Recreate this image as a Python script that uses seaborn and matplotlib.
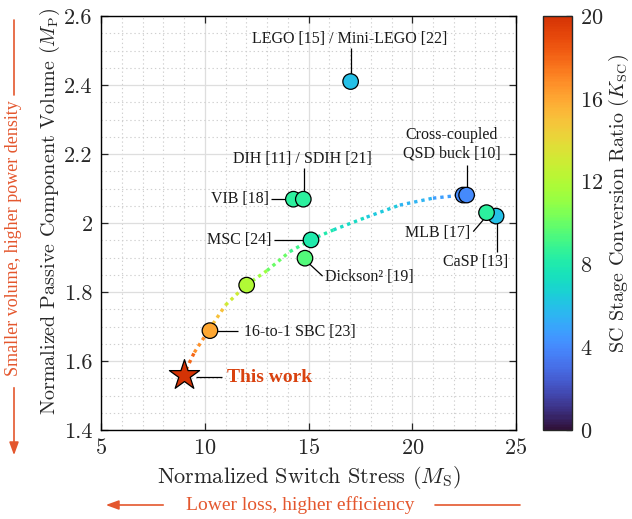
import numpy as np
import pandas as pd
import matplotlib
matplotlib.use("Agg")
import matplotlib.pyplot as plt
import seaborn as sns
from matplotlib.collections import LineCollection
from matplotlib.colors import ListedColormap, Normalize
from matplotlib.patches import FancyArrowPatch
import matplotlib.cm as cm

# ---- data -------------------------------------------------------------
labels = ["LEGO [15] / Mini-LEGO [22]", "VIB [18]", "DIH [11] / SDIH [21]",
          "MSC [24]", "Dickson² [19]", "", "16-to-1 SBC [23]",
          "Cross-coupled QSD buck [10] (a)", "Cross-coupled QSD buck [10] (b)",
          "CaSP [13]", "MLB [17]"]
switch_stress = [17.03, 14.27, 14.75, 15.12, 14.83, 12.02, 10.25, 22.45, 22.62, 24.04, 23.58]
passive_volume = [2.410, 2.069, 2.069, 1.951, 1.898, 1.820, 1.688, 2.081, 2.081, 2.020, 2.030]
k_sc = [6.0, 8.5, 8.5, 8.0, 9.5, 12.0, 16.0, 4.0, 4.0, 6.0, 8.5]

this_work_ms = 9.02
this_work_mp = 1.559
this_work_k = 20.0

# trend through the designs
trend_ms = [9.1, 9.5, 10.2, 11.0, 12.0, 13.0, 14.1, 15.1, 16.2, 17.8, 19.4, 21.0, 22.4]
trend_mp = [1.575, 1.625, 1.690, 1.762, 1.820, 1.862, 1.917, 1.951, 1.980, 2.017, 2.052, 2.072, 2.081]
trend_k = [18.5, 17.5, 16.0, 14.0, 12.0, 10.5, 9.5, 8.5, 7.5, 6.8, 6.0, 5.0, 4.5]

x_ticks = [5, 10, 15, 20, 25]
y_ticks = [1.4, 1.6, 1.8, 2.0, 2.2, 2.4, 2.6]
y_tick_labels = ["1.4", "1.6", "1.8", "2", "2.2", "2.4", "2.6"]
cbar_ticks = [0, 4, 8, 12, 16, 20]

df = pd.DataFrame({"label": labels, "ms": switch_stress, "mp": passive_volume, "k": k_sc})

# ---- style ------------------------------------------------------------
sns.set_style("ticks")
plt.rcParams.update({
    "font.family": "serif",
    "font.serif": ["cmr10"],
    "mathtext.fontset": "cm",
    "axes.formatter.use_mathtext": True,
    "axes.unicode_minus": False,
})
ANN = "Liberation Serif"
ORANGE = "#e4572e"
RED = "#d9420f"

turbo = plt.get_cmap("turbo")
cmap = ListedColormap(turbo(np.linspace(0.0, 0.87, 256)))
norm = Normalize(0, 20)

fig = plt.figure(figsize=(6.32, 5.19), dpi=100)
W, H = 632, 519
ax = fig.add_axes([101 / W, 1 - 430 / H, 415 / W, 414 / H])

# grid
ax.set_xlim(5, 25)
ax.set_ylim(1.4, 2.6)
ax.set_xticks(x_ticks)
ax.set_yticks(y_ticks)
ax.set_yticklabels(y_tick_labels)
ax.set_xticks(np.arange(5, 26, 1), minor=True)
ax.set_yticks(np.arange(1.4, 2.61, 0.05), minor=True)
ax.grid(which="major", color="#dedede", lw=0.9, ls="-", zorder=0)
ax.grid(which="minor", color="#cfcfcf", lw=0.8, ls=(0, (1.2, 2.5)), zorder=0)
ax.set_axisbelow(True)
ax.tick_params(which="major", direction="in", length=5, width=0.9,
               top=True, right=True, labelsize=16, pad=6)
ax.tick_params(which="minor", length=0, top=True, right=True)
for s in ax.spines.values():
    s.set_linewidth(1.0)
    s.set_color("black")

# dotted trend curve coloured by conversion ratio
pts = np.column_stack([trend_ms, trend_mp])
segs = np.stack([pts[:-1], pts[1:]], axis=1)
seg_k = [(a + b) / 2 for a, b in zip(trend_k[:-1], trend_k[1:])]
lc = LineCollection(segs, cmap=cmap, norm=norm, linewidths=2.4,
                    linestyles=(0, (1.0, 1.2)), zorder=2, capstyle="butt")
lc.set_array(np.array(seg_k))
ax.add_collection(lc)

# designs
sns.scatterplot(data=df, x="ms", y="mp", hue="k", palette=cmap, hue_norm=norm,
                s=125, edgecolor="black", linewidth=0.9, legend=False, ax=ax, zorder=4)
ax.scatter([this_work_ms], [this_work_mp], marker="*", s=520,
           c=[this_work_k], cmap=cmap, norm=norm, edgecolors="black",
           linewidths=0.9, zorder=5)

ax.set_xlabel(r"Normalized Switch Stress ($M_{\mathrm{S}}$)", fontsize=16, labelpad=4)
ax.set_ylabel(r"Normalized Passive Component Volume ($M_{\mathrm{P}}$)", fontsize=14.5)
ax.yaxis.set_label_coords(-0.094, 0.527)

# callouts
def leader(x0, y0, x1, y1):
    ax.plot([x0, x1], [y0, y1], color="black", lw=0.9, zorder=3, solid_capstyle="butt")

tk = dict(family=ANN, fontsize=11.5, color="#1a1a1a", zorder=6)
ax.text(17.0, 2.533, "LEGO [15] / Mini-LEGO [22]", ha="center", va="center", **tk)
leader(17.03, 2.508, 17.03, 2.43)
ax.text(14.71, 2.186, "DIH [11] / SDIH [21]", ha="center", va="center", **tk)
leader(14.78, 2.160, 14.78, 2.085)
ax.text(13.08, 2.069, "VIB [18]", ha="right", va="center", **tk)
leader(13.18, 2.069, 14.0, 2.069)
ax.text(13.23, 1.951, "MSC [24]", ha="right", va="center", **tk)
leader(13.34, 1.951, 14.9, 1.951)
ax.text(15.8, 1.844, "Dickson² [19]", ha="left", va="center", **tk)
leader(14.98, 1.885, 15.68, 1.846)
ax.text(21.9, 2.228, "Cross-coupled\nQSD buck [10]", ha="center", va="center",
        linespacing=1.25, **tk)
leader(22.62, 2.168, 22.62, 2.10)
ax.text(22.78, 1.971, "MLB [17]", ha="right", va="center", **tk)
leader(22.94, 1.975, 23.45, 2.011)
ax.text(23.07, 1.888, "CaSP [13]", ha="center", va="center", **tk)
leader(24.08, 2.0, 24.08, 1.917)
ax.text(11.89, 1.685, "16-to-1 SBC [23]", ha="left", va="center", **tk)
leader(10.57, 1.688, 11.62, 1.688)
ax.text(11.05, 1.553, "This work", ha="left", va="center", family=ANN,
        fontsize=14, fontweight="bold", color=RED, zorder=6)
leader(9.6, 1.555, 10.81, 1.555)

# colour bar
cax = fig.add_axes([543 / W, 1 - 430 / H, 29 / W, 414 / H])
sm = cm.ScalarMappable(norm=norm, cmap=cmap)
cb = fig.colorbar(sm, cax=cax, ticks=cbar_ticks)
cb.outline.set_linewidth(1.0)
cb.ax.tick_params(direction="in", length=4, width=0.9, labelsize=16, pad=6)
cb.set_label(r"SC Stage Conversion Ratio ($K_{\mathrm{SC}}$)", fontsize=14.5)
cb.ax.yaxis.set_label_coords(2.2, 0.548)

# direction hints around the axes
def fx(px):
    return px / W

def fy(py):
    return 1 - py / H

fig.add_artist(plt.Line2D([fx(14), fx(14)], [fy(20), fy(95)], color=ORANGE, lw=1.2))
fig.text(fx(14), fy(238), "Smaller volume, higher power density", rotation=90,
         ha="center", va="center", family=ANN, fontsize=13, color=ORANGE)
fig.add_artist(FancyArrowPatch((fx(14), fy(385)), (fx(14), fy(458)),
                               transform=fig.transFigure, color=ORANGE, lw=1.2,
                               arrowstyle="-|>,head_length=0.55,head_width=0.2",
                               mutation_scale=14))

fig.add_artist(FancyArrowPatch((fx(166), fy(505)), (fx(103), fy(505)),
                               transform=fig.transFigure, color=ORANGE, lw=1.2,
                               arrowstyle="-|>,head_length=0.55,head_width=0.2",
                               mutation_scale=14))
fig.text(fx(300), fy(505), "Lower loss, higher efficiency", ha="center", va="center",
         family=ANN, fontsize=14, color=ORANGE)
fig.add_artist(plt.Line2D([fx(435), fx(520)], [fy(505), fy(505)], color=ORANGE, lw=1.2))

fig.savefig("out.png", dpi=100)
